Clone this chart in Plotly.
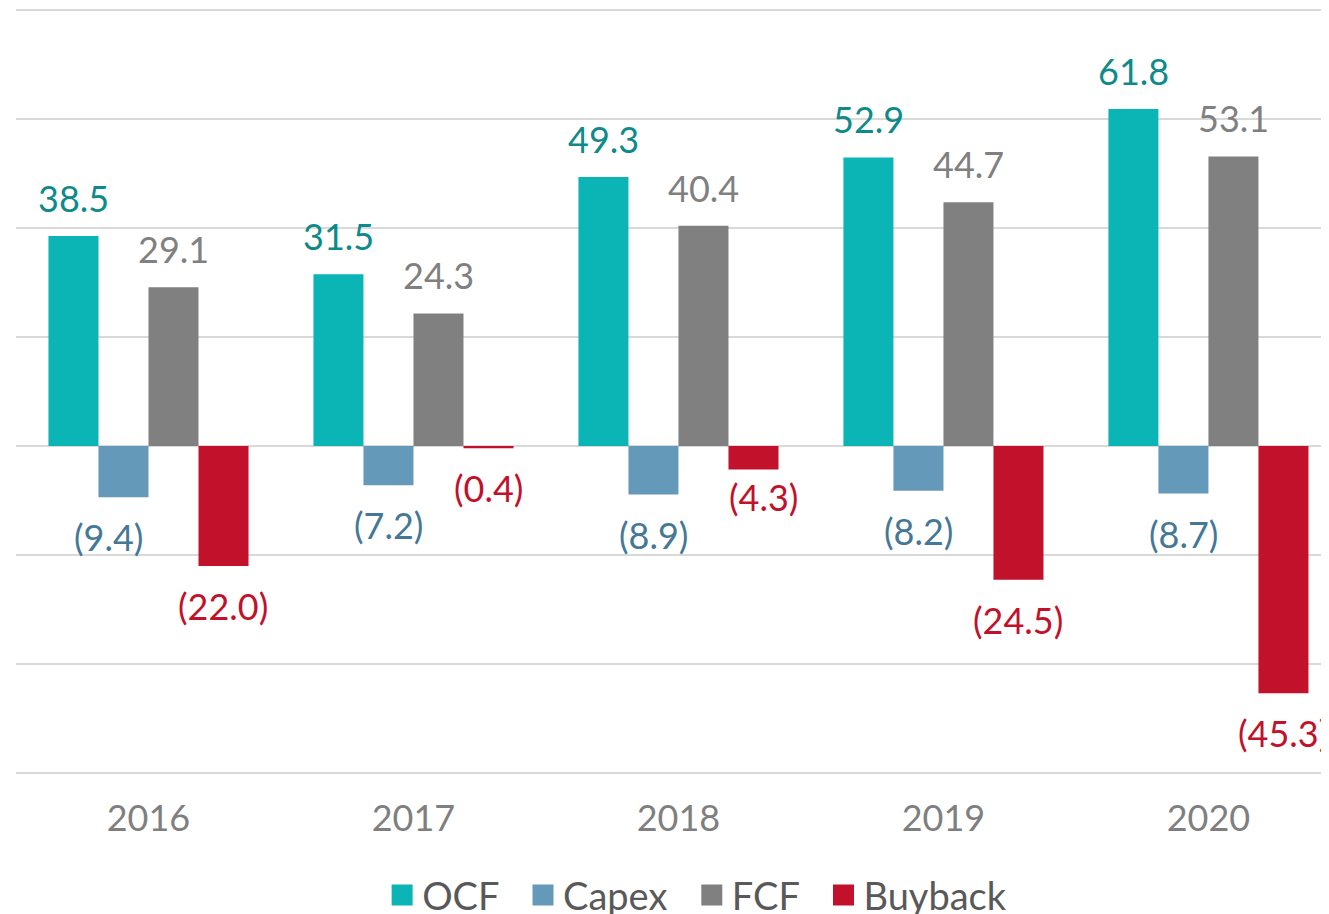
import plotly.graph_objects as go

years = ["2016", "2017", "2018", "2019", "2020"]
ocf = [38.5, 31.5, 49.3, 52.9, 61.8]
capex = [-9.4, -7.2, -8.9, -8.2, -8.7]
fcf = [29.1, 24.3, 40.4, 44.7, 53.1]
buyback = [-22.0, -0.4, -4.3, -24.5, -45.3]

series = [
    ("OCF", ocf, "#0BB5B5", "#0E8A8A"),
    ("Capex", capex, "#6599B9", "#457896"),
    ("FCF", fcf, "#808080", "#808080"),
    ("Buyback", buyback, "#C1112B", "#C1112B"),
]

FONT = "Lato"
BAR_PX = 50  # pixel width of one bar (for label offsets)
PAD = "\u00a0\u00a0"  # extra spacing after legend entries

# small per-label nudges (series index, year index) -> (dx, dy)
nudges = {(1, 0): (-15, 0), (3, 2): (10, 13)}

fig = go.Figure()
for name, vals, col, _ in series:
    fig.add_trace(go.Bar(name=name, x=years, y=vals, marker=dict(color=col, line=dict(width=0)),
                         showlegend=False))
# legend entries
for name, vals, col, _ in series:
    fig.add_trace(go.Scatter(name=name + PAD, x=[None], y=[None], mode="markers",
                             marker=dict(symbol="square", size=16, color=col,
                                         line=dict(color=col, width=5))))

for j, (name, vals, col, lcol) in enumerate(series):
    for i, v in enumerate(vals):
        txt = f"{v:.1f}" if v >= 0 else f"({abs(v):.1f})"
        dx, dy = nudges.get((j, i), (0, 0))
        fig.add_annotation(
            x=i, y=v, xref="x", yref="y", text=txt, showarrow=False,
            xanchor="center", yanchor="middle",
            xshift=(j - 1.5) * BAR_PX + dx,
            yshift=(38 if v >= 0 else -40) + dy,
            font=dict(family=FONT, size=36, color=lcol),
        )

fig.update_layout(
    width=1321, height=906,
    margin=dict(l=8, r=0, t=0, b=139, autoexpand=False),
    paper_bgcolor="white", plot_bgcolor="white",
    barmode="group", bargap=0.245, bargroupgap=0,
    showlegend=True,
    legend=dict(orientation="h", xanchor="center", x=0.526, yanchor="middle", y=-0.157,
                font=dict(family=FONT, size=38, color="#595959"),
                itemclick=False, bgcolor="rgba(0,0,0,0)"),
    xaxis=dict(type="category", range=[-0.5, 4.455], showgrid=False, zeroline=False,
               showline=False, ticks="", ticklabelstandoff=19,
               tickfont=dict(family=FONT, size=36, color="#7F7F7F")),
    yaxis=dict(range=[-60.3, 80.3], dtick=20, tick0=0, showticklabels=False, showgrid=True,
               gridcolor="#D9D9D9", gridwidth=2, zeroline=True, zerolinecolor="#D9D9D9",
               zerolinewidth=2, showline=False, ticks=""),
)

fig.write_html("out.html")
